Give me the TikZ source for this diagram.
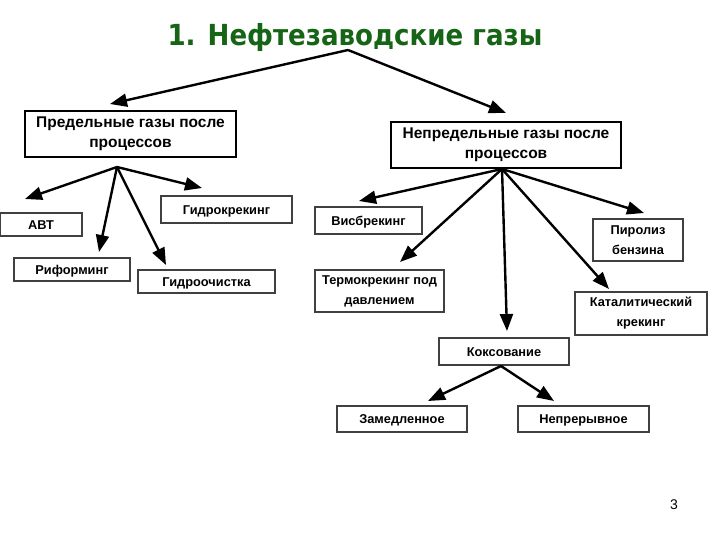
\documentclass[tikz,border=0pt]{standalone}
\usepackage{fontspec}
\setmainfont{Liberation Sans}
\newfontfamily\titlefont{DejaVu Sans Condensed}
\usetikzlibrary{arrows.meta}
\definecolor{titlegreen}{RGB}{22,100,22}
\begin{document}
\begin{tikzpicture}[x=1pt,y=-1pt,
  bigbox/.style={draw=black,line width=2pt,align=center,inner sep=0pt,font=\bfseries\fontsize{15.5}{18}\selectfont},
  smallbox/.style={draw=black!75,line width=1.1pt,align=center,inner sep=0pt,font=\bfseries\fontsize{12.8}{15}\selectfont},
  onebox/.style={smallbox,text height=11pt,text depth=1.8pt},
  arr/.style={line width=2.4pt,-{Triangle[length=17pt,width=13pt]}}]
\useasboundingbox (0,0) rectangle (720,540);
\node[font=\titlefont\bfseries\fontsize{29}{30}\selectfont,text=titlegreen] (title) at (355,38) {1. Нефтезаводские газы};
\coordinate (top) at (348,50);
\node[bigbox,minimum width=211pt,minimum height=46pt] (pred) at (130.5,134) {Предельные газы после\\[2.5pt]процессов};
\node[bigbox,minimum width=230pt,minimum height=46pt] (nepred) at (506,145) {Непредельные газы после\\[2.5pt]процессов};
\coordinate (tp1) at (110,104);
\coordinate (tp2) at (506,113);
\draw[arr] (top) -- (tp1);
\draw[arr] (top) -- (tp2);
% left
\node[onebox,minimum width=82pt,minimum height=23pt] (avt) at (41,224.5) {АВТ};
\node[onebox,minimum width=116pt,minimum height=23pt] (rif) at (72,269.5) {Риформинг};
\node[onebox,minimum width=137pt,minimum height=23pt] (gochi) at (206.5,281.5) {Гидроочистка};
\node[onebox,minimum width=131pt,minimum height=27pt] (gkr) at (226.5,209.5) {Гидрокрекинг};
\coordinate (la) at (117,167);
\coordinate (ta1) at (25,199);
\coordinate (ta2) at (99,252);
\coordinate (ta3) at (166,265);
\coordinate (ta4) at (202,188);
\draw[arr] (la) -- (ta1);
\draw[arr] (la) -- (ta2);
\draw[arr] (la) -- (ta3);
\draw[arr] (la) -- (ta4);
% right
\node[onebox,minimum width=107pt,minimum height=27pt] (visb) at (368.5,220.5) {Висбрекинг};
\node[smallbox,minimum width=129pt,minimum height=42pt] (term) at (379.5,291) {Термокрекинг под\\[5pt]давлением};
\node[onebox,minimum width=130pt,minimum height=27pt] (koks) at (504,351.5) {Коксование};
\node[smallbox,minimum width=132pt,minimum height=43pt] (kat) at (641,313.5) {Каталитический\\[5pt]крекинг};
\node[smallbox,minimum width=90pt,minimum height=42pt] (pir) at (638,240) {Пиролиз\\[5pt]бензина};
\coordinate (ra) at (502,169);
\coordinate (tb1) at (359,201);
\coordinate (tb2) at (400,262);
\coordinate (tb3) at (507,331);
\coordinate (tb4) at (609,289);
\coordinate (tb5) at (644,213);
\draw[arr] (ra) -- (tb1);
\draw[arr] (ra) -- (tb2);
\draw[arr] (ra) -- (tb3);
\draw[arr] (ra) -- (tb4);
\draw[arr] (ra) -- (tb5);
% coking
\node[onebox,minimum width=130pt,minimum height=26pt] (zam) at (402,419) {Замедленное};
\node[onebox,minimum width=131pt,minimum height=26pt] (nepr) at (583.5,419) {Непрерывное};
\coordinate (ka) at (501,366);
\coordinate (tc1) at (428,401);
\coordinate (tc2) at (554,401);
\draw[arr] (ka) -- (tc1);
\draw[arr] (ka) -- (tc2);
\node[font=\fontsize{14}{16}\selectfont] (pg) at (674,505) {3};
\end{tikzpicture}
\end{document}
